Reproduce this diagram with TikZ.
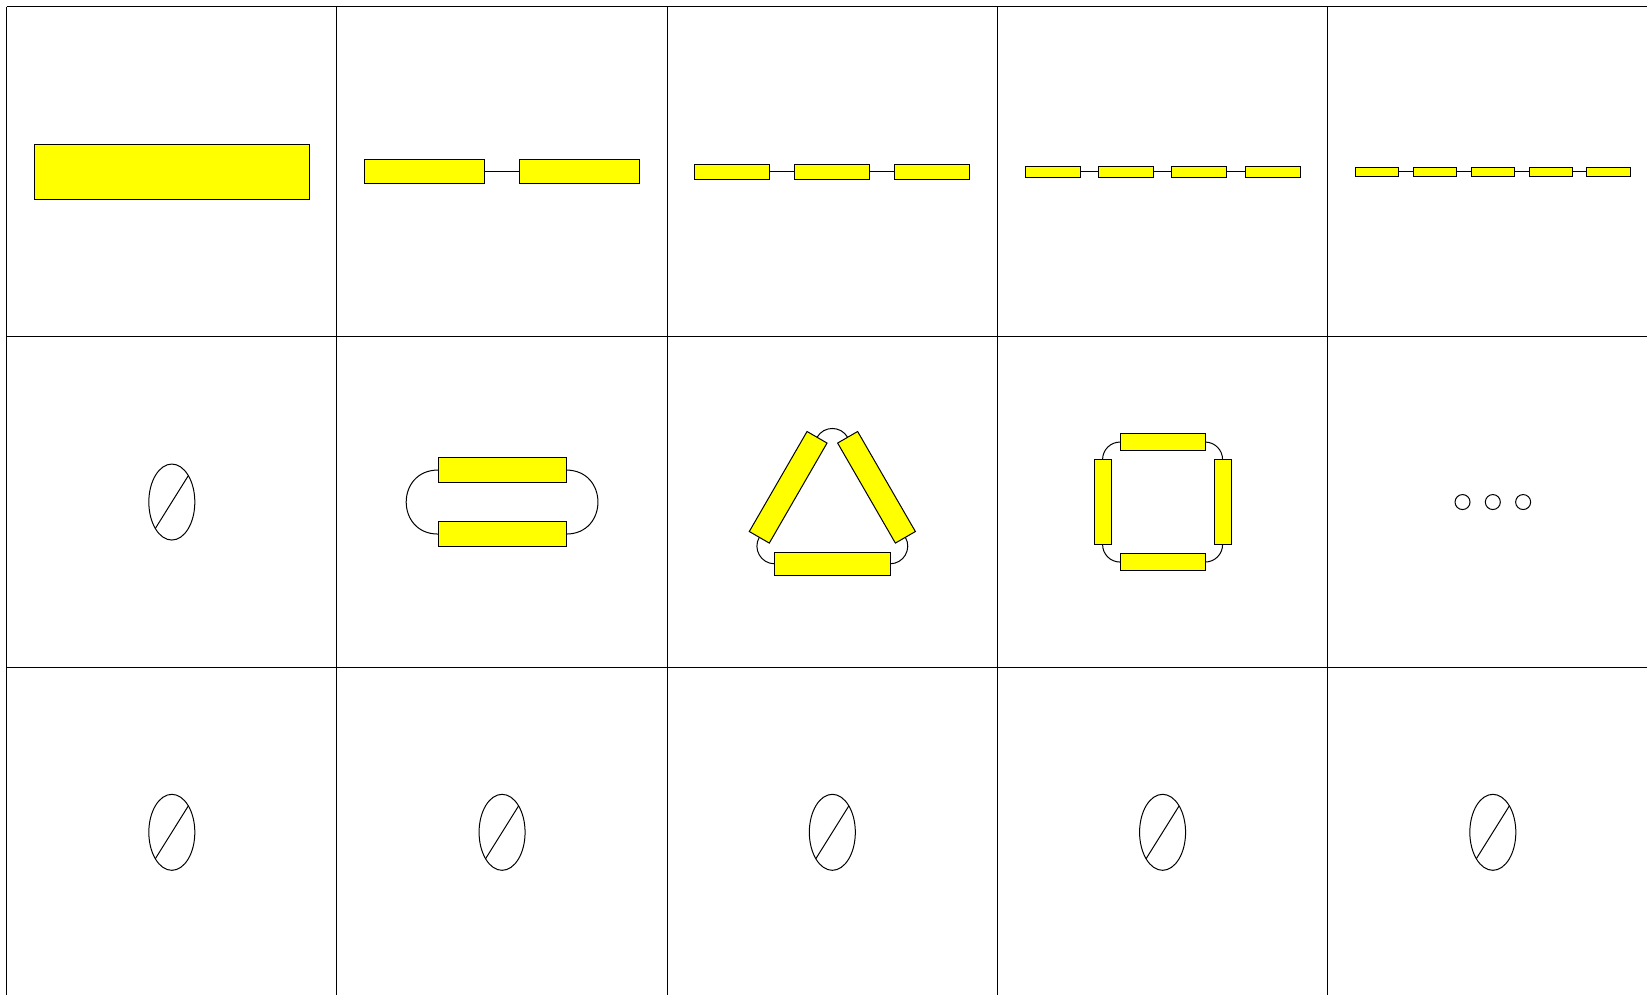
\documentclass[tikz,border=0pt]{standalone}
\usetikzlibrary{positioning, shapes.geometric, calc}
\definecolor{rodyellow}{HTML}{FFFF00}
\definecolor{gridblack}{HTML}{000000}

\begin{document}
\begin{tikzpicture}[x=1pt, y=1pt, line width=1pt,
    rod/.style={draw, fill=rodyellow, inner sep=0pt, outer sep=0pt},
    nullset/.style={draw, ellipse, inner sep=0pt, outer sep=0pt,
                    minimum width=46pt, minimum height=76pt},
    bead/.style={draw, circle, inner sep=0pt, minimum size=15pt}]
    \useasboundingbox (0,0) rectangle (1647,995);
    \clip (0,0) rectangle (1647,995);
    % grid of cells
    \foreach \i in {0,...,4}
      \draw[gridblack] ({6.7+330.25*\i},988.3) -- ({6.7+330.25*\i},-10);
    \foreach \j in {0,...,2}
      \draw[gridblack] (6.7,{988.3-330.25*\j}) -- (1660,{988.3-330.25*\j});
    % top row: open chains
    \foreach \n/\cx/\w/\p in {1/171.83/275/0, 2/502.08/120/155.5, 3/832.33/75/100,
                              4/1162.58/55/73.33, 5/1492.83/43.4/57.9}{
      \pgfmathsetmacro\hgt{\w/5}
      \foreach \k in {1,...,\n}
        \node[rod, minimum width=\w pt, minimum height=\hgt pt] (c\n-\k)
              at ({\cx+(\k-(\n+1)/2)*\p},823.18) {};
      \ifnum\n>1
        \foreach \k [remember=\k as \kp (initially 1)] in {2,...,\n}
          \draw (c\n-\kp.east) -- (c\n-\k.west);
      \fi
    }
    % middle row: closed rings
    \foreach \n/\cx/\cy/\rad/\len/\lo in {2/502.08/492.93/32/128/1.703,
                                          3/832.33/482.2/51/115.5/1.135,
                                          4/1162.58/492.93/60/85/1.0}{
      \pgfmathsetmacro\hgt{\len/5}
      \pgfmathtruncatemacro\last{\n-1}
      \foreach \i in {0,...,\last}{
        \pgfmathsetmacro\ang{-90+360*\i/\n}
        \node[rod, rotate={360*\i/\n}, minimum width=\len pt, minimum height=\hgt pt] (p\n-\i)
              at ({\cx+\rad*cos(\ang)},{\cy+\rad*sin(\ang)}) {};
      }
      \foreach \i in {0,...,\last}{
        \pgfmathsetmacro\ang{360*\i/\n}
        \pgfmathsetmacro\angin{360*(\i+1)/\n+180}
        \pgfmathtruncatemacro\nx{mod(\i+1,\n)}
        \draw (p\n-\i.east) to[out=\ang, in=\angin, looseness=\lo] (p\n-\nx.west);
      }
    }
    \node[nullset] (z0) at (171.83,492.93) {};
    \draw (z0.58) -- (z0.238);
    \foreach \i/\x in {1/-30.3, 2/0, 3/30.3}
      \node[bead] (b\i) at ({1492.83+\x},492.93) {};
    % bottom row
    \foreach \i/\cx in {1/171.83, 2/502.08, 3/832.33, 4/1162.58, 5/1492.83}{
      \node[nullset] (z\i) at (\cx,162.68) {};
      \draw (z\i.58) -- (z\i.238);
    }
\end{tikzpicture}
\end{document}
